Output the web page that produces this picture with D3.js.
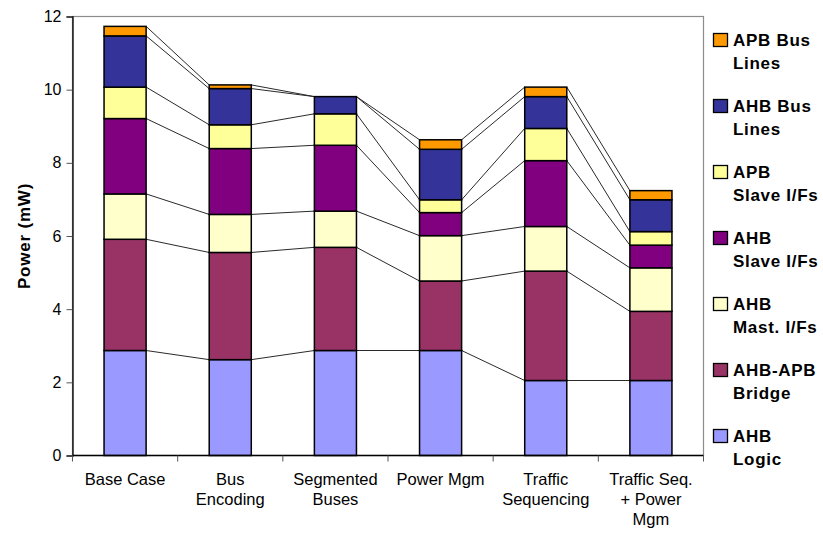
<!DOCTYPE html>
<html>
<head>
<meta charset="utf-8">
<script src="https://cdn.jsdelivr.net/npm/d3@7"></script>
<style>
  html, body { margin: 0; padding: 0; background: #fff; }
  svg { display: block; font-family: "Liberation Sans", Arial, sans-serif; }
</style>
</head>
<body>
<svg id="chart" width="823" height="533"></svg>
<script>
// Scenarios along the x axis, with their wrapped label lines
const categories = ["Base Case", "Bus Encoding", "Segmented Buses", "Power Mgm", "Traffic Sequencing", "Traffic Seq. + Power Mgm"];
const categoryLines = [["Base Case"], ["Bus", "Encoding"], ["Segmented", "Buses"], ["Power Mgm"], ["Traffic", "Sequencing"], ["Traffic Seq.", "+ Power", "Mgm"]];

// Power per component (mW), stacked bottom to top
const ahbLogic  = [2.87, 2.62, 2.87, 2.87, 2.05, 2.05];
const ahbApbBridge = [3.04, 2.93, 2.82, 1.90, 2.99, 1.89];
const ahbMastIfs = [1.24, 1.04, 0.99, 1.24, 1.22, 1.19];
const ahbSlaveIfs = [2.06, 1.80, 1.80, 0.63, 1.80, 0.62];
const apbSlaveIfs = [0.86, 0.65, 0.86, 0.35, 0.88, 0.37];
const ahbBusLines = [1.40, 0.99, 0.47, 1.38, 0.87, 0.87];
const apbBusLines = [0.26, 0.10, 0.00, 0.26, 0.26, 0.25];

const seriesKeys = ["ahbLogic", "ahbApbBridge", "ahbMastIfs", "ahbSlaveIfs", "apbSlaveIfs", "ahbBusLines", "apbBusLines"];
const seriesColors = ["#9999FF", "#993366", "#FFFFCC", "#800080", "#FFFF99", "#333399", "#FF9900"];
const legendLines = [["AHB", "Logic"], ["AHB-APB", "Bridge"], ["AHB", "Mast. I/Fs"], ["AHB", "Slave I/Fs"], ["APB", "Slave I/Fs"], ["AHB Bus", "Lines"], ["APB Bus", "Lines"]];
const yTicks = [0, 2, 4, 6, 8, 10, 12];
const yTitle = "Power (mW)";

const seriesValues = { ahbLogic, ahbApbBridge, ahbMastIfs, ahbSlaveIfs, apbSlaveIfs, ahbBusLines, apbBusLines };
const rows = categories.map((c, i) => {
  const r = { category: c };
  seriesKeys.forEach(k => { r[k] = seriesValues[k][i]; });
  return r;
});

const svg = d3.select("#chart");
const plot = { left: 72.5, right: 703.5, top: 16.5, bottom: 455.5 };

const x = d3.scaleBand().domain(categories).range([plot.left, plot.right]).padding(0);
const y = d3.scaleLinear().domain([0, 12]).range([plot.bottom, plot.top]);
const barW = x.bandwidth() * 0.4;
const barX = c => x(c) + (x.bandwidth() - barW) / 2;

const stacked = d3.stack().keys(seriesKeys)(rows);

// Plot area frame
svg.append("rect")
  .attr("x", plot.left).attr("y", plot.top)
  .attr("width", plot.right - plot.left).attr("height", plot.bottom - plot.top)
  .attr("fill", "none").attr("stroke", "#8c8c8c").attr("stroke-width", 1.2);

// Series lines joining the top of each segment between neighbouring bars
const seriesLineG = svg.append("g");
stacked.forEach(s => {
  for (let i = 0; i < categories.length - 1; i++) {
    seriesLineG.append("line")
      .attr("x1", barX(categories[i]) + barW)
      .attr("y1", y(s[i][1]))
      .attr("x2", barX(categories[i + 1]))
      .attr("y2", y(s[i + 1][1]))
      .attr("stroke", "#2a2a2a").attr("stroke-width", 1);
  }
});

// Stacked bars
const barG = svg.append("g");
stacked.forEach((s, si) => {
  barG.selectAll(null).data(s).enter().append("rect")
    .attr("x", d => barX(d.data.category))
    .attr("y", d => y(d[1]))
    .attr("width", barW)
    .attr("height", d => y(d[0]) - y(d[1]))
    .attr("fill", seriesColors[si])
    .attr("stroke", "#000").attr("stroke-width", 1.5);
});

// Y axis
const yAxis = svg.append("g")
  .attr("transform", `translate(${plot.left},0)`)
  .call(d3.axisLeft(y).tickValues(yTicks).tickSize(6).tickPadding(5).tickFormat(d3.format("d")));
yAxis.select(".domain").attr("stroke", "#000").attr("stroke-width", 1.3);
yAxis.selectAll(".tick line").attr("stroke", "#555");
yAxis.selectAll(".tick text")
  .attr("font-size", 16).attr("fill", "#000")
  .attr("font-family", "Liberation Sans, Arial, sans-serif");

// X axis: ticks at category boundaries
const xAxisG = svg.append("g");
xAxisG.append("line")
  .attr("x1", plot.left).attr("x2", plot.right)
  .attr("y1", plot.bottom).attr("y2", plot.bottom)
  .attr("stroke", "#000").attr("stroke-width", 1.3);
const boundaries = categories.map(c => x(c)).concat([x(categories[categories.length - 1]) + x.bandwidth()]);
xAxisG.selectAll(null).data(boundaries).enter().append("line")
  .attr("x1", d => d).attr("x2", d => d)
  .attr("y1", plot.bottom).attr("y2", plot.bottom + 6)
  .attr("stroke", "#555").attr("stroke-width", 1);

// Category labels
categories.forEach((c, i) => {
  const t = svg.append("text")
    .attr("x", x(c) + x.bandwidth() / 2)
    .attr("y", 485)
    .attr("text-anchor", "middle")
    .attr("font-size", 16.5).attr("fill", "#000");
  categoryLines[i].forEach((ln, j) => {
    t.append("tspan").attr("x", x(c) + x.bandwidth() / 2).attr("dy", j === 0 ? 0 : 20).text(ln);
  });
});

// Y axis title
svg.append("text")
  .attr("transform", `translate(30,${(plot.top + plot.bottom) / 2}) rotate(-90)`)
  .attr("text-anchor", "middle")
  .attr("font-size", 17).attr("font-weight", "bold")
  .attr("letter-spacing", 0.8)
  .attr("fill", "#000")
  .text(yTitle);

// Legend, top entry first
const legendOrder = d3.range(seriesKeys.length).reverse();
legendOrder.forEach((si, row) => {
  const cy = 40 + row * 66;
  svg.append("rect")
    .attr("x", 713.5).attr("y", cy - 6.5)
    .attr("width", 14).attr("height", 13)
    .attr("fill", seriesColors[si]).attr("stroke", "#000").attr("stroke-width", 1.3);
  const t = svg.append("text")
    .attr("x", 732).attr("y", cy + 6)
    .attr("font-size", 17).attr("font-weight", "bold")
    .attr("letter-spacing", 0.7)
    .attr("fill", "#000");
  legendLines[si].forEach((ln, j) => {
    t.append("tspan").attr("x", 733).attr("dy", j === 0 ? 0 : 23).text(ln);
  });
});
</script>
</body>
</html>
